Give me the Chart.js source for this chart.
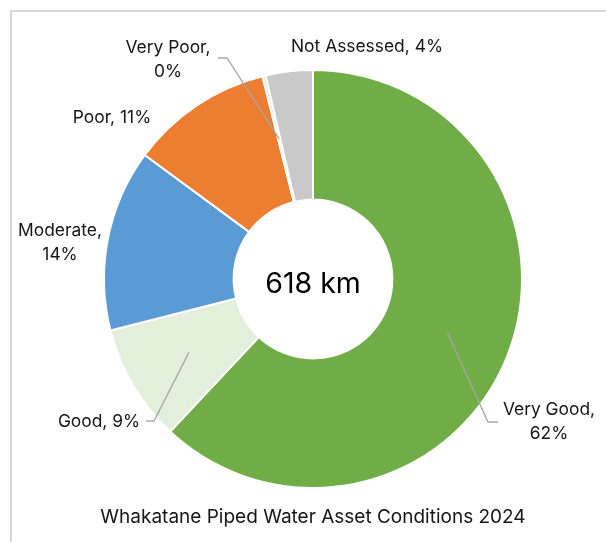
<!DOCTYPE html>
<html>
<head>
<meta charset="utf-8">
<script src="https://cdn.jsdelivr.net/npm/chart.js@4.4.1/dist/chart.umd.min.js"></script>
<style>
  html, body { margin: 0; padding: 0; background: #ffffff; }
  #wrap { position: relative; width: 606px; height: 542px; }
</style>
</head>
<body>
<div id="wrap"><canvas id="pipes"></canvas></div>
<script>
// Pipe length by condition grade (km)
const conditions = ["Very Good", "Good", "Moderate", "Poor", "Very Poor", "Not Assessed"];
const lengthKm = [383, 56, 87, 68, 1.5, 22.5];
const sliceColors = ["#70ad47", "#e2efda", "#5b9bd5", "#ed7d31", "#dcdcdc", "#c9c9c9"];

const chartTitle = "Whakatane Piped Water Asset Conditions 2024";
const totalKm = lengthKm.reduce((a, b) => a + b, 0);

const FONT = "Inter, 'Noto Sans', sans-serif";

// label placement, offsets from the doughnut centre
// wrap: put the percentage on its own line
// leader: [startX, elbowX, y] of the connector, also offsets from the centre
const labelLayout = [
    { dx: 236, base: 136, wrap: true, leader: [185, 175, 143] },
    { dx: -214, base: 148, wrap: false, leader: [-167, -159, 142] },
    { dx: -253, base: -43, wrap: true },
    { dx: -201, base: -156, wrap: false },
    { dx: -145, base: -226, wrap: true, leader: [-95, -86, -221] },
    { dx: 54, base: -227, wrap: false },
];

const sliceLabels = {
    id: "sliceLabels",
    afterDatasetsDraw(chart) {
        const ctx = chart.ctx;
        const arcs = chart.getDatasetMeta(0).data;
        ctx.save();
        ctx.font = "17.4px " + FONT;
        ctx.fillStyle = "#161616";
        ctx.textAlign = "center";
        ctx.textBaseline = "alphabetic";
        arcs.forEach((arc, i) => {
            const { x, y, startAngle, endAngle, innerRadius, outerRadius } =
                arc.getProps(["x", "y", "startAngle", "endAngle", "innerRadius", "outerRadius"], true);
            const pct = Math.round((lengthKm[i] / totalKm) * 100);
            const lay = labelLayout[i];
            const lines = lay.wrap
                ? [conditions[i] + ",", pct + "%"]
                : [conditions[i] + ", " + pct + "%"];
            lines.forEach((t, k) => ctx.fillText(t, x + lay.dx, y + lay.base + k * 24));

            if (lay.leader) {
                const mid = (startAngle + endAngle) / 2;
                const r = (innerRadius + outerRadius) / 2;
                ctx.beginPath();
                ctx.strokeStyle = "#a6a6a6";
                ctx.lineWidth = 1.3;
                ctx.moveTo(x + lay.leader[0], y + lay.leader[2]);
                ctx.lineTo(x + lay.leader[1], y + lay.leader[2]);
                ctx.lineTo(x + Math.cos(mid) * r, y + Math.sin(mid) * r);
                ctx.stroke();
            }
        });

        // total in the hole
        const c = arcs[0];
        ctx.font = "28.5px " + FONT;
        ctx.fillStyle = "#000000";
        ctx.fillText(Math.round(totalKm) + " km", c.x, c.y + 14);

        ctx.font = "19px " + FONT;
        ctx.fillStyle = "#161616";
        ctx.fillText(chartTitle, c.x, c.y + 244);
        ctx.restore();
    },
    beforeDraw(chart) {
        const ctx = chart.ctx;
        ctx.save();
        ctx.strokeStyle = "#d9d9d9";
        ctx.lineWidth = 2;
        ctx.strokeRect(11, 11, 700, 700);
        ctx.restore();
    },
};

new Chart(document.getElementById("pipes"), {
    type: "doughnut",
    plugins: [sliceLabels],
    data: {
        labels: conditions,
        datasets: [
            {
                data: lengthKm,
                backgroundColor: sliceColors,
                borderColor: "#ffffff",
                borderWidth: 2,
            },
        ],
    },
    options: {
        responsive: true,
        maintainAspectRatio: false,
        animation: false,
        events: [],
        radius: 209,
        cutout: 79,
        layout: { padding: { left: 104, right: 84, top: 60, bottom: 44 } },
        plugins: {
            legend: { display: false },
            tooltip: { enabled: false },
        },
    },
});
</script>
</body>
</html>
